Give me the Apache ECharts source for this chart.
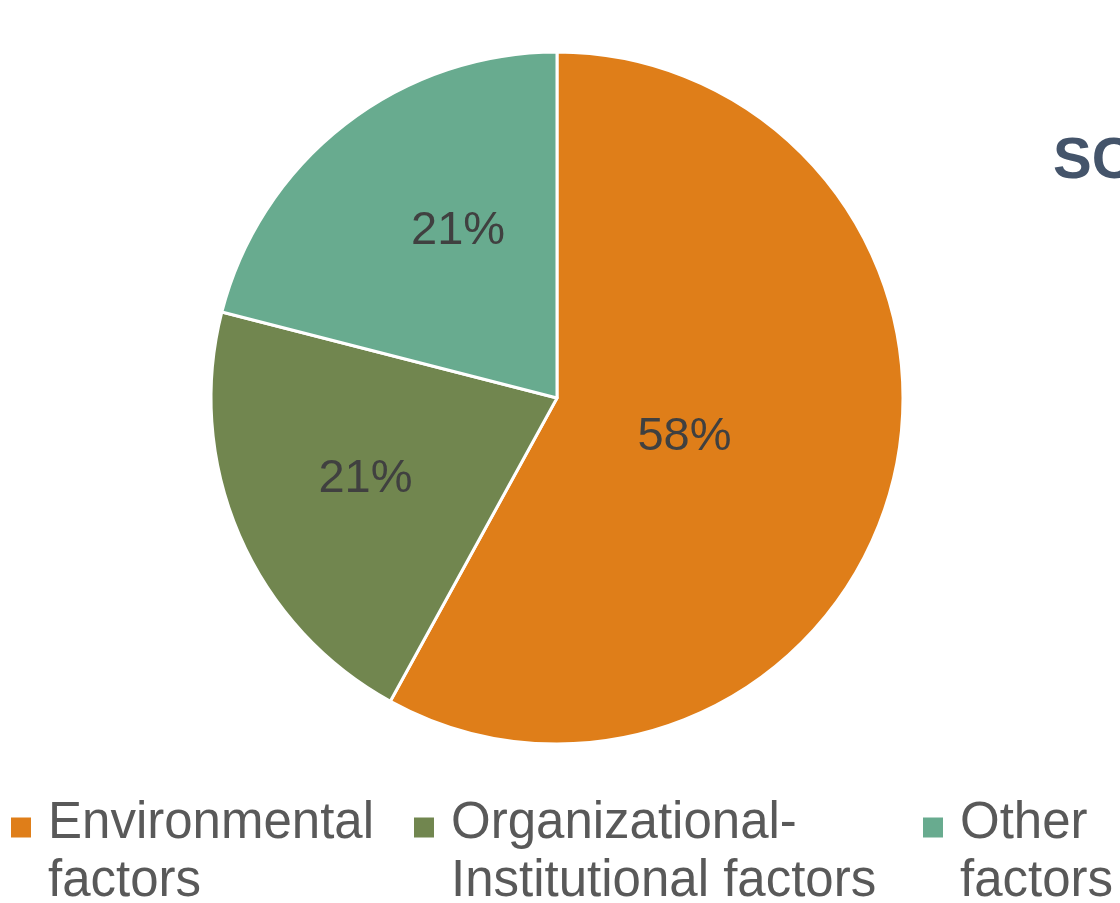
<!DOCTYPE html>
<html>
<head>
<meta charset="utf-8">
<script src="https://cdn.jsdelivr.net/npm/echarts@6/dist/echarts.min.js"></script>
<style>
  html, body { margin: 0; padding: 0; background: #ffffff; }
  #chart { width: 1120px; height: 903px; }
</style>
</head>
<body>
<div id="chart"></div>
<script>
// Share of factors
const categories = ['Environmental\nfactors', 'Organizational-\nInstitutional factors', 'Other\nfactors'];
const values = [58, 21, 21];
const colors = ['#DF7E19', '#71864F', '#68AB8F'];
const labelOffsets = [[-43, -5], [-30, 11], [9, -28]];
const legendLefts = [9, 412, 921];

// Legend marker: a 22px square at the top of a tall box, so it sits on the first text line
const markerPath = 'path://M0,0h22v22h-22z M33,73h0.01v0.01h-0.01z';

const chart = echarts.init(document.getElementById('chart'), null, { renderer: 'canvas' });

chart.setOption({
  backgroundColor: '#ffffff',
  animation: false,
  title: {
    text: 'SCORE',
    left: 1048,
    top: 128,
    textStyle: { fontFamily: 'Liberation Sans', fontWeight: 'bold', fontSize: 58, color: '#44546A' }
  },
  legend: categories.map((name, i) => ({
    data: [name],
    left: legendLefts[i],
    top: 795,
    padding: 0,
    itemWidth: 33,
    itemHeight: 73,
    icon: markerPath,
    selectedMode: false,
    textStyle: { fontFamily: 'Liberation Sans', fontSize: 51, lineHeight: 58, color: '#595959' }
  })),
  series: [{
    type: 'pie',
    center: [557, 398],
    radius: 346,
    startAngle: 90,
    clockwise: true,
    data: categories.map((name, i) => ({
      name,
      value: values[i],
      itemStyle: { color: colors[i] },
      label: { offset: labelOffsets[i] }
    })),
    itemStyle: { borderColor: '#ffffff', borderWidth: 3 },
    label: {
      show: true,
      position: 'inside',
      formatter: p => p.value + '%',
      fontFamily: 'Liberation Sans',
      fontSize: 47,
      color: '#404040'
    },
    labelLine: { show: false },
    emphasis: { disabled: true }
  }]
});
</script>
</body>
</html>
